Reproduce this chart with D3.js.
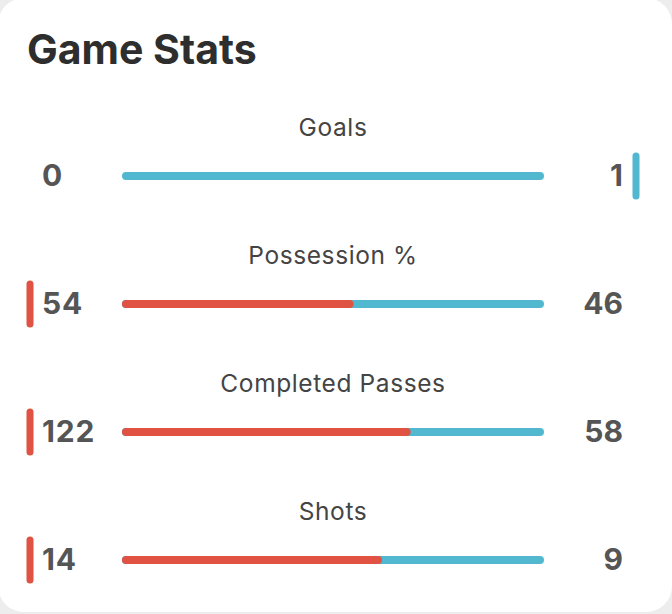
<!DOCTYPE html>
<html>
<head>
<meta charset="utf-8">
<script src="https://cdn.jsdelivr.net/npm/d3@7"></script>
<style>
  html, body { margin: 0; padding: 0; background: #ededed; }
  svg { display: block; }
</style>
</head>
<body>
<svg id="chart" width="672" height="614"></svg>
<script>
const title = "Game Stats";
const categories = ["Goals", "Possession %", "Completed Passes", "Shots"];
const homeValues = [0, 54, 122, 14];
const awayValues = [1, 46, 58, 9];

const W = 672, H = 614;
const homeColor = "#e05241";
const awayColor = "#52b8d0";
const svg = d3.select("#chart");

svg.append("rect")
  .attr("x", -2).attr("y", -2)
  .attr("width", W + 2).attr("height", H + 0)
  .attr("rx", 26)
  .attr("fill", "#ffffff");

svg.append("text")
  .attr("x", 27).attr("y", 64)
  .attr("font-family", "Inter, 'Noto Sans', sans-serif")
  .attr("font-weight", 700)
  .attr("font-size", 41)
  .attr("fill", "#2e2e2e")
  .text(title);

const yRow = d3.scalePoint().domain(categories).range([176, 560]);
const barLeft = 126, barRight = 540;

const rows = svg.selectAll("g.row")
  .data(categories.map((c, i) => ({ c, h: homeValues[i], a: awayValues[i] })))
  .join("g")
  .attr("class", "row")
  .attr("transform", d => `translate(0,${yRow(d.c)})`);

rows.append("text")
  .attr("x", 333).attr("y", -40)
  .attr("text-anchor", "middle")
  .attr("font-family", "Inter, 'Noto Sans', sans-serif")
  .attr("font-size", 24.5)
  .attr("letter-spacing", 0.6)
  .attr("fill", "#444")
  .text(d => d.c);

rows.each(function(d) {
  const g = d3.select(this);
  const x = d3.scaleLinear().domain([0, d.h + d.a]).range([barLeft, barRight]);
  const split = x(d.h);
  g.append("line")
    .attr("x1", barLeft).attr("x2", barRight)
    .attr("y1", 0).attr("y2", 0)
    .attr("stroke", awayColor).attr("stroke-width", 8)
    .attr("stroke-linecap", "round");
  if (d.h > 0) {
    g.append("line")
      .attr("x1", barLeft).attr("x2", split)
      .attr("y1", 0).attr("y2", 0)
      .attr("stroke", homeColor).attr("stroke-width", 8)
      .attr("stroke-linecap", "round");
    g.append("rect")
      .attr("x", split - 4).attr("y", -4)
      .attr("width", 4).attr("height", 8)
      .attr("fill", homeColor);
  }
  if (d.h > d.a) {
    g.append("line")
      .attr("x1", 30).attr("x2", 30).attr("y1", -20).attr("y2", 20)
      .attr("stroke", homeColor).attr("stroke-width", 7)
      .attr("stroke-linecap", "round");
  } else if (d.a > d.h) {
    g.append("line")
      .attr("x1", 636).attr("x2", 636).attr("y1", -20).attr("y2", 20)
      .attr("stroke", awayColor).attr("stroke-width", 7)
      .attr("stroke-linecap", "round");
  }
});

rows.append("text")
  .attr("x", 42).attr("y", 10)
  .attr("font-family", "Inter, 'Noto Sans', sans-serif")
  .attr("font-weight", 700)
  .attr("font-size", 30)
  .attr("letter-spacing", 0.8)
  .attr("fill", "#555")
  .text(d => d.h);

rows.append("text")
  .attr("x", 623).attr("y", 10)
  .attr("text-anchor", "end")
  .attr("font-family", "Inter, 'Noto Sans', sans-serif")
  .attr("font-weight", 700)
  .attr("font-size", 30)
  .attr("fill", "#555")
  .text(d => d.a);
</script>
</body>
</html>
